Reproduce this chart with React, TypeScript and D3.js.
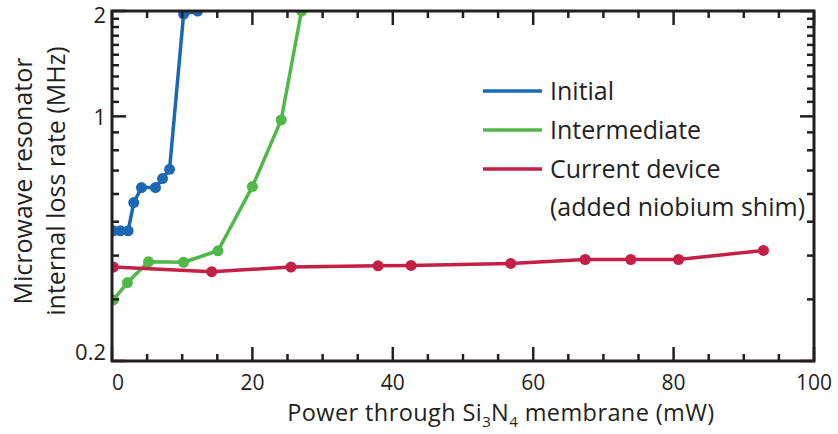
import React from 'react';
import * as d3 from 'd3';

// ==== data

const initialPower = [0.2, 1.2, 2.3, 3.1, 4.2, 6.2, 7.2, 8.2, 10.2, 12.2];
const initialLoss = [0.471, 0.471, 0.471, 0.567, 0.626, 0.626, 0.664, 0.706, 1.96, 2.0];

const intermediatePower = [0.2, 2.2, 5.2, 10.2, 15.1, 20.0, 24.1, 27.0];
const intermediateLoss = [0.299, 0.335, 0.384, 0.383, 0.413, 0.63, 0.977, 2.0];

const currentPower = [0.2, 14.2, 25.5, 37.9, 42.6, 56.8, 67.4, 73.9, 80.7, 92.8];
const currentLoss = [0.371, 0.36, 0.371, 0.374, 0.375, 0.38, 0.39, 0.39, 0.39, 0.414];

const xMajorTicks = [0, 20, 40, 60, 80, 100];
const xMinorTicks = [5, 10, 15, 25, 30, 35, 45, 50, 55, 65, 70, 75, 85, 90, 95];
const yMajorTicks = [0.2, 1, 2];
const yTickLabels = ['0.2', '1', '2'];
const yMinorTicks = [0.3, 0.4, 0.5, 0.6, 0.7, 0.8, 0.9, 1.1, 1.2, 1.3, 1.4, 1.5, 1.6, 1.7, 1.8, 1.9];

const seriesNames = ['Initial', 'Intermediate', 'Current device'];
const seriesColors = ['#1b68b4', '#4fb848', '#c41f45'];

// ====

const INK = '#231f20';
const FONT = '"Open Sans", sans-serif';

class App extends React.Component {
    constructor(props) {
        super(props);
        this.buildChart = this.buildChart.bind(this);
    }

    buildChart() {
        const svg = d3.select(this.node);
        svg.selectAll('*').remove();

        const left = 112, right = 814, top = 11, bottom = 361;

        const x = d3.scaleLinear().domain([0, 100]).range([left, right]);
        const y = d3.scaleLog().domain([0.2, 2]).range([bottom, top]);

        svg.append('clipPath')
            .attr('id', 'plot-clip')
            .append('rect')
            .attr('x', left)
            .attr('y', top)
            .attr('width', right - left)
            .attr('height', bottom - top);

        const series = [
            { power: initialPower, loss: initialLoss },
            { power: intermediatePower, loss: intermediateLoss },
            { power: currentPower, loss: currentLoss }
        ];

        const line = d3.line()
                        .x((d) => x(d[0]))
                        .y((d) => y(d[1]));

        const plot = svg.append('g').attr('clip-path', 'url(#plot-clip)');

        series.forEach((s, i) => {
            const pts = s.power.map((p, k) => [p, s.loss[k]]);

            plot.append('path')
                .datum(pts)
                .attr('d', line)
                .attr('fill', 'none')
                .attr('stroke', seriesColors[i])
                .attr('stroke-width', 3.5)
                .attr('stroke-linejoin', 'round');

            plot.selectAll(`.pt-${i}`)
                .data(pts)
                .enter()
                .append('circle')
                .attr('class', `pt-${i}`)
                .attr('cx', (d) => x(d[0]))
                .attr('cy', (d) => y(d[1]))
                .attr('r', 5.5)
                .attr('fill', seriesColors[i]);
        });

        // ticks, pointing inwards on all four sides
        const ticks = svg.append('g').attr('stroke', INK).attr('stroke-width', 2.5);

        const xTick = (vals, len) => {
            vals.forEach((v) => {
                ticks.append('line').attr('x1', x(v)).attr('x2', x(v)).attr('y1', bottom).attr('y2', bottom - len);
                ticks.append('line').attr('x1', x(v)).attr('x2', x(v)).attr('y1', top).attr('y2', top + len);
            });
        };
        const yTick = (vals, len) => {
            vals.forEach((v) => {
                ticks.append('line').attr('y1', y(v)).attr('y2', y(v)).attr('x1', left).attr('x2', left + len);
                ticks.append('line').attr('y1', y(v)).attr('y2', y(v)).attr('x1', right).attr('x2', right - len);
            });
        };
        xTick(xMinorTicks, 7);
        xTick(xMajorTicks, 14);
        yTick(yMinorTicks, 7);
        yTick(yMajorTicks, 14);

        svg.append('rect')
            .attr('x', left)
            .attr('y', top)
            .attr('width', right - left)
            .attr('height', bottom - top)
            .attr('fill', 'none')
            .attr('stroke', INK)
            .attr('stroke-width', 3);

        // tick labels
        svg.append('g')
            .selectAll('text')
            .data(xMajorTicks)
            .enter()
            .append('text')
            .attr('x', (d) => x(d) + (d === 0 ? 6 : 0))
            .attr('y', 389.5)
            .attr('text-anchor', 'middle')
            .style('font-family', FONT)
            .style('font-size', '21px')
            .attr('fill', INK)
            .text((d) => d);

        const yShift = [-9, 1, 4];
        svg.append('g')
            .selectAll('text')
            .data(yMajorTicks)
            .enter()
            .append('text')
            .attr('x', 106)
            .attr('y', (d, i) => y(d) + yShift[i] + 8)
            .attr('text-anchor', 'end')
            .style('font-family', FONT)
            .style('font-size', '22px')
            .attr('fill', INK)
            .text((d, i) => yTickLabels[i]);

        // axis titles
        const xt = svg.append('text')
            .attr('x', 501)
            .attr('y', 421)
            .attr('text-anchor', 'middle')
            .style('font-family', FONT)
            .style('font-size', '23.5px')
            .style('letter-spacing', '0.4px')
            .attr('fill', INK);
        xt.append('tspan').text('Power through Si');
        xt.append('tspan').attr('dy', 6).style('font-size', '15px').text('3');
        xt.append('tspan').attr('dy', -6).text('N');
        xt.append('tspan').attr('dy', 6).style('font-size', '15px').text('4');
        xt.append('tspan').attr('dy', -6).text(' membrane (mW)');

        const yt = svg.append('g').attr('transform', 'translate(0, 181) rotate(-90)');
        yt.append('text')
            .attr('x', 0)
            .attr('y', 32)
            .attr('text-anchor', 'middle')
            .style('font-family', FONT)
            .style('font-size', '25px')
            .attr('fill', INK)
            .text('Microwave resonator');
        yt.append('text')
            .attr('x', 0)
            .attr('y', 65)
            .attr('text-anchor', 'middle')
            .style('font-family', FONT)
            .style('font-size', '25px')
            .attr('fill', INK)
            .text('internal loss rate (MHz)');

        // legend
        const legendY = [91, 130, 169];
        const legend = svg.append('g');
        seriesNames.forEach((name, i) => {
            legend.append('line')
                .attr('x1', 483)
                .attr('x2', 542)
                .attr('y1', legendY[i])
                .attr('y2', legendY[i])
                .attr('stroke', seriesColors[i])
                .attr('stroke-width', 3.5);
            legend.append('text')
                .attr('x', 550)
                .attr('y', legendY[i] + 9)
                .style('font-family', FONT)
                .style('font-size', '25px')
                .attr('fill', INK)
                .text(name);
        });
        legend.append('text')
            .attr('x', 550)
            .attr('y', 216)
            .style('font-family', FONT)
            .style('font-size', '25px')
            .attr('fill', INK)
            .text('(added niobium shim)');
    }

    componentDidMount() {
        this.buildChart();
    }

    componentDidUpdate() {
        this.buildChart();
    }

    render() {
        return (
            <svg
                ref={node => this.node = node}
                width={838}
                height={434}
                style={{ position: 'absolute', left: 0, top: 0, background: '#fff' }}>
            </svg>
        );
    }
}

// ====

export default App;
